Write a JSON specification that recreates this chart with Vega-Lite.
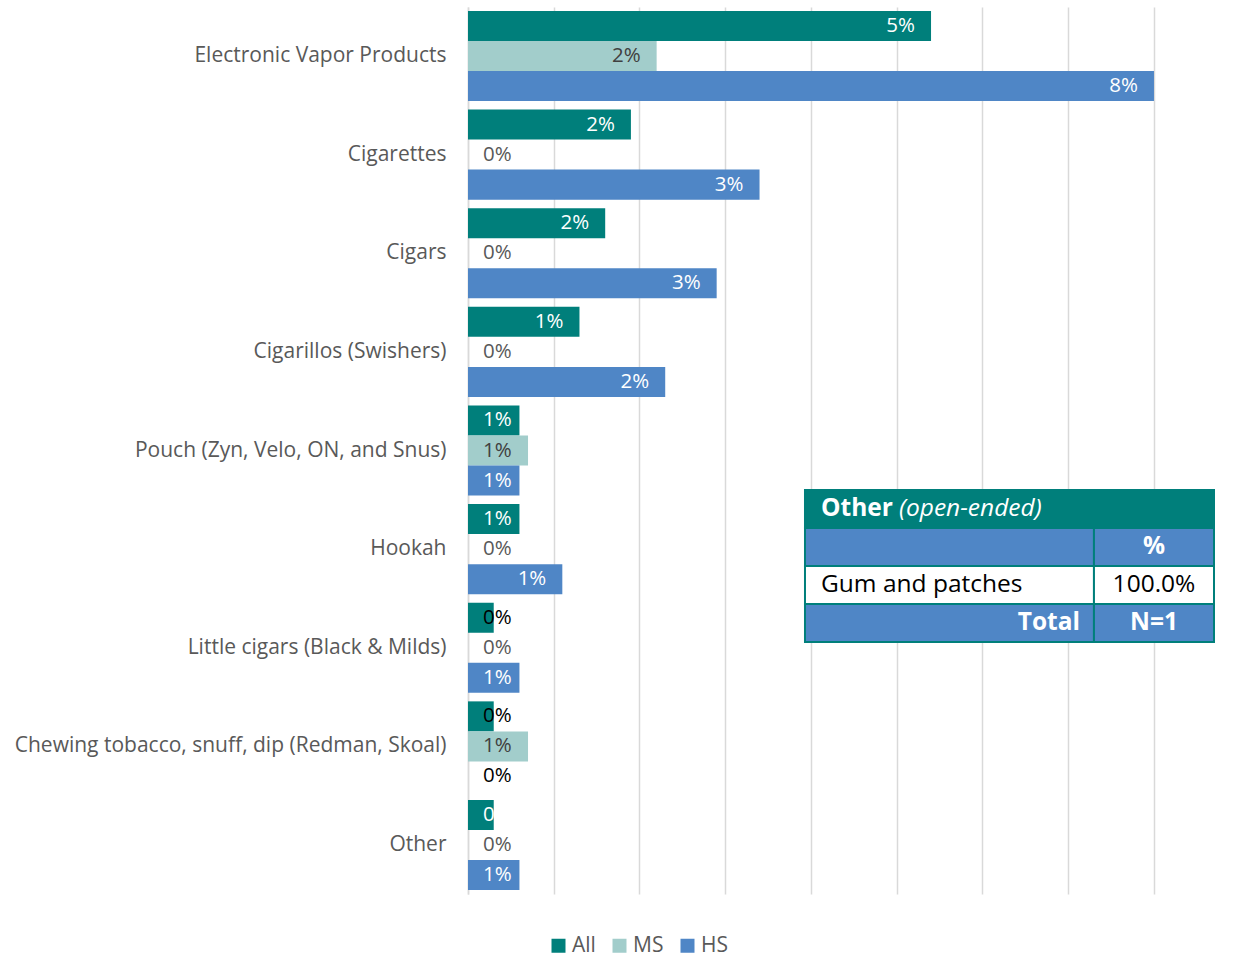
{
  "$schema": "https://vega.github.io/schema/vega-lite/v6.json",
  "autosize": {"type": "none"},
  "padding": {"left": 468, "top": 7, "right": 20, "bottom": 65},
  "width": 746,
  "height": 887,
  "background": "#ffffff",
  "config": {"view": {"stroke": null}, "font": "Open Sans"},
  "layer": [
    {
      "data": {"values": [
        {"item": "Electronic Vapor Products", "series": "All", "value": 0.054, "label": "5%"},
        {"item": "Electronic Vapor Products", "series": "MS", "value": 0.022, "label": "2%"},
        {"item": "Electronic Vapor Products", "series": "HS", "value": 0.080, "label": "8%"},
        {"item": "Cigarettes", "series": "All", "value": 0.019, "label": "2%"},
        {"item": "Cigarettes", "series": "MS", "value": 0, "label": "0%"},
        {"item": "Cigarettes", "series": "HS", "value": 0.034, "label": "3%"},
        {"item": "Cigars", "series": "All", "value": 0.016, "label": "2%"},
        {"item": "Cigars", "series": "MS", "value": 0, "label": "0%"},
        {"item": "Cigars", "series": "HS", "value": 0.029, "label": "3%"},
        {"item": "Cigarillos (Swishers)", "series": "All", "value": 0.013, "label": "1%"},
        {"item": "Cigarillos (Swishers)", "series": "MS", "value": 0, "label": "0%"},
        {"item": "Cigarillos (Swishers)", "series": "HS", "value": 0.023, "label": "2%"},
        {"item": "Pouch (Zyn, Velo, ON, and Snus)", "series": "All", "value": 0.006, "label": "1%"},
        {"item": "Pouch (Zyn, Velo, ON, and Snus)", "series": "MS", "value": 0.007, "label": "1%"},
        {"item": "Pouch (Zyn, Velo, ON, and Snus)", "series": "HS", "value": 0.006, "label": "1%"},
        {"item": "Hookah", "series": "All", "value": 0.006, "label": "1%"},
        {"item": "Hookah", "series": "MS", "value": 0, "label": "0%"},
        {"item": "Hookah", "series": "HS", "value": 0.011, "label": "1%"},
        {"item": "Little cigars (Black & Milds)", "series": "All", "value": 0.003, "label": "0%"},
        {"item": "Little cigars (Black & Milds)", "series": "MS", "value": 0, "label": "0%"},
        {"item": "Little cigars (Black & Milds)", "series": "HS", "value": 0.006, "label": "1%"},
        {"item": "Chewing tobacco, snuff, dip (Redman, Skoal)", "series": "All", "value": 0.003, "label": "0%"},
        {"item": "Chewing tobacco, snuff, dip (Redman, Skoal)", "series": "MS", "value": 0.007, "label": "1%"},
        {"item": "Chewing tobacco, snuff, dip (Redman, Skoal)", "series": "HS", "value": 0, "label": "0%"},
        {"item": "Other", "series": "All", "value": 0.003, "label": "0"},
        {"item": "Other", "series": "MS", "value": 0, "label": "0%"},
        {"item": "Other", "series": "HS", "value": 0.006, "label": "1%"}
      ]},
      "encoding": {
        "y": {
          "field": "item", "type": "nominal", "sort": null,
          "scale": {"paddingInner": 0.087, "paddingOuter": 0.04},
          "axis": {"title": null, "ticks": false, "labelPadding": 22, "labelFont": "Open Sans", "labelFontSize": 21, "labelColor": "#595959", "domainColor": "#D9D9D9", "domainWidth": 1.5, "labelLimit": 600}
        },
        "yOffset": {"field": "series", "type": "nominal", "sort": ["All", "MS", "HS"], "scale": {"paddingInner": 0, "paddingOuter": 0}}
      },
      "layer": [
        {
          "mark": {"type": "bar"},
          "encoding": {
            "x": {
              "field": "value", "type": "quantitative",
              "scale": {"domain": [0, 0.087], "nice": false, "zero": true},
              "axis": {"title": null, "labels": false, "ticks": false, "domain": false, "grid": true, "gridColor": "#D9D9D9", "gridWidth": 1.5, "values": [0, 0.01, 0.02, 0.03, 0.04, 0.05, 0.06, 0.07, 0.08]}
            },
            "color": {
              "field": "series", "type": "nominal",
              "scale": {"domain": ["All", "MS", "HS"], "range": ["#007F7B", "#A2CDCB", "#4F86C6"]},
              "legend": {"title": null, "orient": "none", "direction": "horizontal", "legendX": 80, "legendY": 928, "symbolType": "square", "symbolSize": 196, "symbolStrokeWidth": 0, "labelFont": "Open Sans", "labelFontSize": 21, "labelColor": "#595959", "labelOffset": 3, "columnPadding": 13, "padding": 0}
            }
          }
        },
        {
          "transform": [{"filter": "datum.value >= 0.009"}],
          "mark": {"type": "text", "align": "right", "baseline": "middle", "dx": -16, "font": "Open Sans", "fontSize": 20.5},
          "encoding": {
            "x": {"field": "value", "type": "quantitative", "scale": {"domain": [0, 0.087], "nice": false}},
            "text": {"field": "label"},
            "color": {"condition": {"test": "datum.series === 'MS'", "value": "#404040"}, "value": "#FFFFFF"}
          }
        },
        {
          "transform": [{"filter": "datum.value < 0.009"}],
          "mark": {"type": "text", "align": "left", "baseline": "middle", "dx": 15, "font": "Open Sans", "fontSize": 20.5},
          "encoding": {
            "x": {"datum": 0, "type": "quantitative", "scale": {"domain": [0, 0.087], "nice": false}},
            "text": {"field": "label"},
            "color": {
              "condition": [
                {"test": "datum.series === 'MS' && datum.value === 0", "value": "#595959"},
                {"test": "datum.series === 'MS'", "value": "#404040"},
                {"test": "datum.label === '0'", "value": "#FFFFFF"},
                {"test": "datum.value < 0.004", "value": "#000000"}
              ],
              "value": "#FFFFFF"
            }
          }
        }
      ]
    },
    {
      "layer": [
        {
          "data": {"values": [
            {"cell": "header", "x0": 0.0393, "x1": 0.0870, "r0": 12.71, "r1": 13.71},
            {"cell": "blue", "x0": 0.0393, "x1": 0.0730, "r0": 13.71, "r1": 14.71},
            {"cell": "blue", "x0": 0.0730, "x1": 0.0870, "r0": 13.71, "r1": 14.71},
            {"cell": "white", "x0": 0.0393, "x1": 0.0730, "r0": 14.71, "r1": 15.71},
            {"cell": "white", "x0": 0.0730, "x1": 0.0870, "r0": 14.71, "r1": 15.71},
            {"cell": "blue", "x0": 0.0393, "x1": 0.0730, "r0": 15.71, "r1": 16.71},
            {"cell": "blue", "x0": 0.0730, "x1": 0.0870, "r0": 15.71, "r1": 16.71}
          ]},
          "mark": {"type": "rect", "stroke": "#007F7B", "strokeWidth": 2},
          "encoding": {
            "x": {"field": "x0", "type": "quantitative", "scale": {"domain": [0, 0.087], "nice": false}},
            "x2": {"field": "x1"},
            "y": {"field": "r0", "type": "quantitative", "scale": {"domain": [0, 23.342], "reverse": true, "nice": false}, "axis": null},
            "y2": {"field": "r1"},
            "fill": {
              "condition": [
                {"test": "datum.cell === 'header'", "value": "#007F7B"},
                {"test": "datum.cell === 'blue'", "value": "#4F86C6"}
              ],
              "value": "#FFFFFF"
            }
          }
        },
        {
          "data": {"values": [{"t": "Other", "tx": 0.04117, "ty": 13.21}]},
          "mark": {"type": "text", "align": "left", "baseline": "middle", "font": "Open Sans", "fontSize": 24.5, "fontWeight": "bold", "color": "#FFFFFF"},
          "encoding": {
            "x": {"field": "tx", "type": "quantitative", "scale": {"domain": [0, 0.087], "nice": false}},
            "y": {"field": "ty", "type": "quantitative", "scale": {"domain": [0, 23.342], "reverse": true, "nice": false}, "axis": null},
            "text": {"field": "t"}
          }
        },
        {
          "data": {"values": [{"t": "(open-ended)", "tx": 0.05026, "ty": 13.21}]},
          "mark": {"type": "text", "align": "left", "baseline": "middle", "font": "Open Sans", "fontSize": 24.5, "fontStyle": "italic", "color": "#FFFFFF"},
          "encoding": {
            "x": {"field": "tx", "type": "quantitative", "scale": {"domain": [0, 0.087], "nice": false}},
            "y": {"field": "ty", "type": "quantitative", "scale": {"domain": [0, 23.342], "reverse": true, "nice": false}, "axis": null},
            "text": {"field": "t"}
          }
        },
        {
          "data": {"values": [{"t": "%", "tx": 0.0800, "ty": 14.21}, {"t": "N=1", "tx": 0.0800, "ty": 16.21}]},
          "mark": {"type": "text", "align": "center", "baseline": "middle", "font": "Open Sans", "fontSize": 24.5, "fontWeight": "bold", "color": "#FFFFFF"},
          "encoding": {
            "x": {"field": "tx", "type": "quantitative", "scale": {"domain": [0, 0.087], "nice": false}},
            "y": {"field": "ty", "type": "quantitative", "scale": {"domain": [0, 23.342], "reverse": true, "nice": false}, "axis": null},
            "text": {"field": "t"}
          }
        },
        {
          "data": {"values": [{"t": "Total", "tx": 0.07137, "ty": 16.21}]},
          "mark": {"type": "text", "align": "right", "baseline": "middle", "font": "Open Sans", "fontSize": 24.5, "fontWeight": "bold", "color": "#FFFFFF"},
          "encoding": {
            "x": {"field": "tx", "type": "quantitative", "scale": {"domain": [0, 0.087], "nice": false}},
            "y": {"field": "ty", "type": "quantitative", "scale": {"domain": [0, 23.342], "reverse": true, "nice": false}, "axis": null},
            "text": {"field": "t"}
          }
        },
        {
          "data": {"values": [{"t": "Gum and patches", "tx": 0.04117, "ty": 15.21}]},
          "mark": {"type": "text", "align": "left", "baseline": "middle", "font": "Open Sans", "fontSize": 24.5, "color": "#000000"},
          "encoding": {
            "x": {"field": "tx", "type": "quantitative", "scale": {"domain": [0, 0.087], "nice": false}},
            "y": {"field": "ty", "type": "quantitative", "scale": {"domain": [0, 23.342], "reverse": true, "nice": false}, "axis": null},
            "text": {"field": "t"}
          }
        },
        {
          "data": {"values": [{"t": "100.0%", "tx": 0.0800, "ty": 15.21}]},
          "mark": {"type": "text", "align": "center", "baseline": "middle", "font": "Open Sans", "fontSize": 24.5, "color": "#000000"},
          "encoding": {
            "x": {"field": "tx", "type": "quantitative", "scale": {"domain": [0, 0.087], "nice": false}},
            "y": {"field": "ty", "type": "quantitative", "scale": {"domain": [0, 23.342], "reverse": true, "nice": false}, "axis": null},
            "text": {"field": "t"}
          }
        }
      ]
    }
  ],
  "resolve": {"scale": {"y": "independent"}, "axis": {"y": "independent"}}
}
